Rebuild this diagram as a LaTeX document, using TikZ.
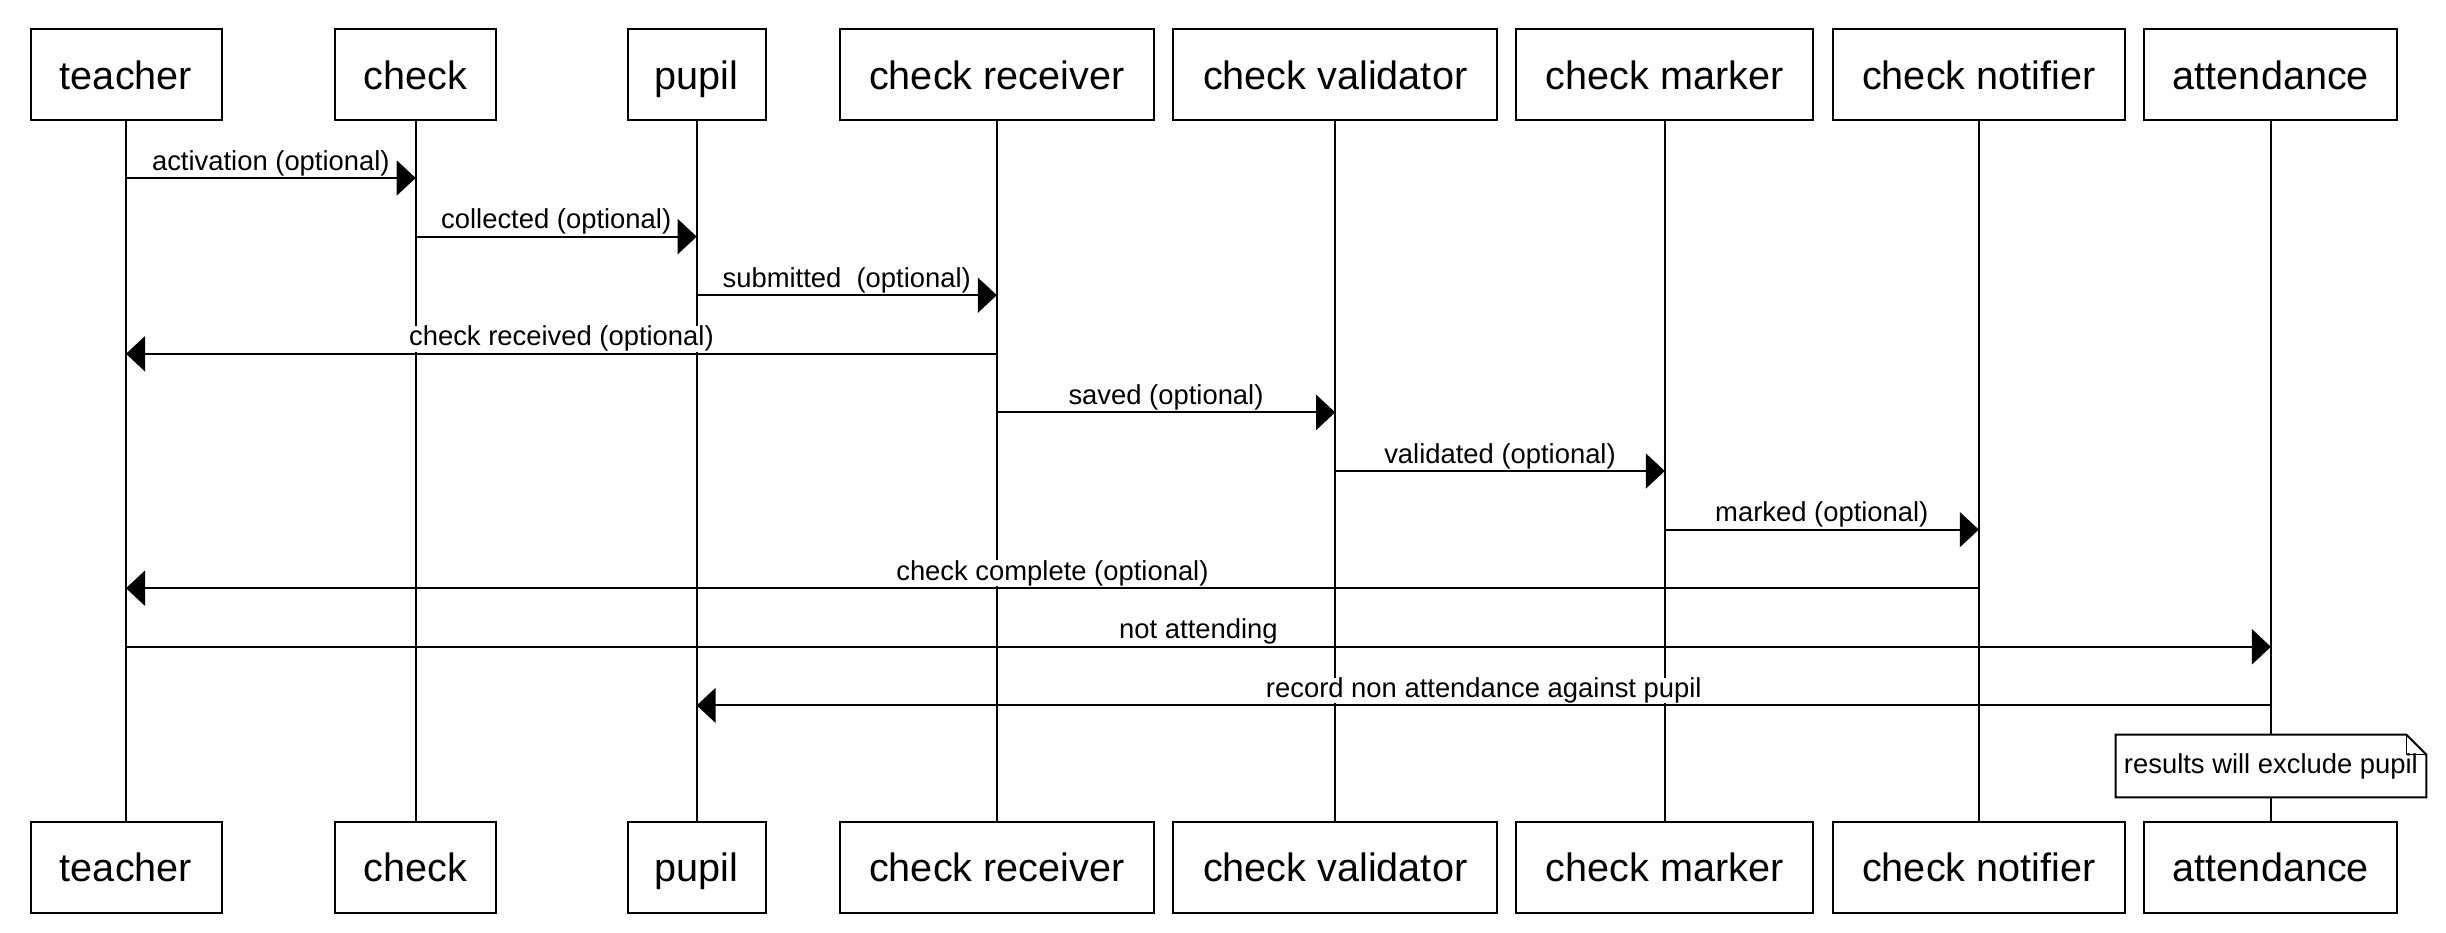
\documentclass[tikz,border=0pt]{standalone}
\usepackage{fontspec}
\setmainfont{Liberation Sans}
\usetikzlibrary{arrows.meta}
\begin{document}
\begin{tikzpicture}[x=0.5pt,y=-0.5pt,
  actor/.style={draw, line width=1pt, minimum height=45.5pt, inner sep=0pt, text height=17pt, text depth=2.5pt, font=\fontsize{19.8}{24}\selectfont},
  life/.style={line width=0.8pt},
  msg/.style={line width=1pt, -{Triangle[length=9.5pt,width=17.5pt]}},
  lbl/.style={midway, above, yshift=0.6pt, fill=white, inner xsep=1pt, inner ysep=0pt, font=\fontsize{13.7}{16}\selectfont},
  notebox/.style={fill=white, minimum width=155pt, minimum height=31pt, inner sep=0pt, font=\fontsize{13.7}{16}\selectfont},
  noteline/.style={line width=1pt, line join=miter}
]
\useasboundingbox (0,0) rectangle (2446,932);

\foreach \n/\x/\w/\t in {teacher/126/95.5/teacher, check/415.7/80.5/check, pupil/696.7/69/pupil,
  receiver/996.8/157/check receiver, validator/1335.2/162/check validator,
  marker/1664.8/148.5/check marker, notifier/1978.8/146/check notifier,
  attendance/2270.9/126.5/attendance}{
  \node[actor, minimum width=\w pt] (\n T) at (\x,74.5) {\t};
  \node[actor, minimum width=\w pt] (\n B) at (\x,867) {\t};
  \draw[life] (\n T.south) -- (\n B.north);
}

\foreach \i/\y in {1/178,2/236.6,3/295.2,4/353.8,5/412.4,6/471,7/529.6,8/588.2,9/646.8,10/705.4,11/766}{
  \coordinate (r\i) at (0,\y);
}

\draw[msg] (teacherT |- r1) -- (checkT |- r1) node[lbl]{activation (optional)};
\draw[msg] (checkT |- r2) -- (pupilT |- r2) node[lbl]{collected (optional)};
\draw[msg] (pupilT |- r3) -- (receiverT |- r3) node[lbl]{submitted~ (optional)};
\draw[msg] (receiverT |- r4) -- (teacherT |- r4) node[lbl]{check received (optional)};
\draw[msg] (receiverT |- r5) -- (validatorT |- r5) node[lbl]{saved (optional)};
\draw[msg] (validatorT |- r6) -- (markerT |- r6) node[lbl]{validated (optional)};
\draw[msg] (markerT |- r7) -- (notifierT |- r7) node[lbl]{marked (optional)};
\draw[msg] (notifierT |- r8) -- (teacherT |- r8) node[lbl]{check complete (optional)};
\draw[msg] (teacherT |- r9) -- (attendanceT |- r9) node[lbl]{not attending};
\draw[msg] (attendanceT |- r10) -- (pupilT |- r10) node[lbl]{record non attendance against pupil};

\node[notebox] (note) at (attendanceT |- r11) {results will exclude pupil};
\draw[noteline] (note.north west) -- ([xshift=-10pt]note.north east) -- ([yshift=-10pt]note.north east)
  -- (note.south east) -- (note.south west) -- cycle;
\draw[line width=0.6pt] ([xshift=-10pt]note.north east) -- ([xshift=-10pt,yshift=-10pt]note.north east) -- ([yshift=-10pt]note.north east);
\end{tikzpicture}
\end{document}
